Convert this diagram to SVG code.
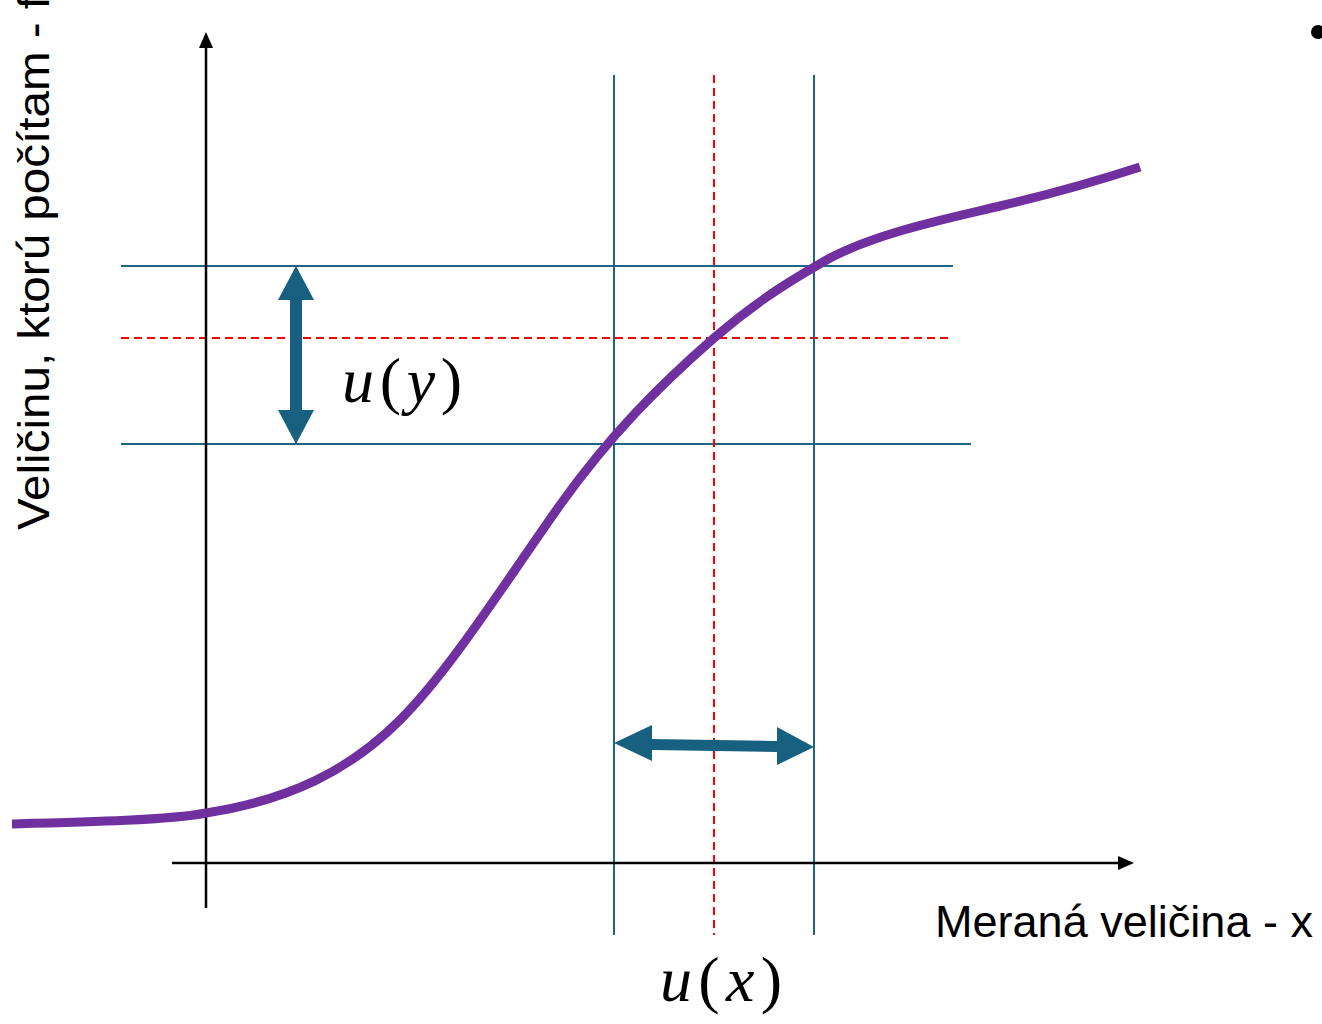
<svg xmlns="http://www.w3.org/2000/svg" width="1322" height="1024" viewBox="0 0 1322 1024">
<style>
.axis{stroke:#000;stroke-width:2.5;fill:none}
.blue{stroke:#1f6385;stroke-width:2;fill:none}
.red{stroke:#ff0000;stroke-width:2;stroke-dasharray:8 5;fill:none}
.curve{stroke:#7030a0;stroke-width:9;fill:none;stroke-linecap:butt}
.dbl{fill:#17607f}
.lbl{font-family:"Liberation Sans","Open Sans",sans-serif;font-size:44px;fill:#000}
.math{font-family:"Liberation Serif","DejaVu Serif",serif;font-size:64px;fill:#000}
</style>
<rect width="1322" height="1024" fill="#fff"/>
<g id="grid">
<line class="blue" x1="121" y1="266" x2="953" y2="266"/>
<line class="blue" x1="121" y1="444" x2="971" y2="444"/>
<line class="red" x1="121" y1="338" x2="950" y2="338"/>
<line class="blue" x1="614" y1="75" x2="614" y2="935"/>
<line class="blue" x1="814" y1="75" x2="814" y2="935"/>
<line class="red" x1="714" y1="75" x2="714" y2="935"/>
</g>
<g id="axes">
<line class="axis" x1="206" y1="908" x2="206" y2="44"/>
<polygon points="206,32 199,48 213,48" fill="#000"/>
<line class="axis" x1="172" y1="863" x2="1120" y2="863"/>
<polygon points="1134,863 1118,856 1118,870" fill="#000"/>
</g>
<g id="curve">
<path class="curve" d="M12,824 C90,822 170,820 206,813 C290,800 350,770 400,720 C450,670 500,590 560,505 C610,435 660,385 714,338 C760,298 800,275 830,258 C880,232 950,218 1000,206 C1060,192 1100,180 1140,167"/>
</g>
<g id="uy-arrow">
<polygon class="dbl" points="296,266 314,300 302,300 302,410 314,410 296,444 278,410 290,410 290,300 278,300"/>
</g>
<g id="ux-arrow">
<polygon class="dbl" points="614,743 652,725 652,739 777,741 777,727 814,747 777,765 777,752 652,750 652,761"/>
</g>
<g id="labels">
<text class="math" x="342" y="402" textLength="120" lengthAdjust="spacing"><tspan font-style="italic">u</tspan>(<tspan font-style="italic">y</tspan>)</text>
<text class="math" x="660" y="1001" textLength="122" lengthAdjust="spacing"><tspan font-style="italic">u</tspan>(<tspan font-style="italic">x</tspan>)</text>
<text class="lbl" transform="translate(49,530) rotate(-90)" textLength="534" lengthAdjust="spacingAndGlyphs">Veličinu, ktorú počítam - f</text>
<text class="lbl" x="935" y="937" textLength="378" lengthAdjust="spacingAndGlyphs">Meraná veličina - x</text>
<circle cx="1318" cy="32" r="7" fill="#000"/>
</g>
</svg>
